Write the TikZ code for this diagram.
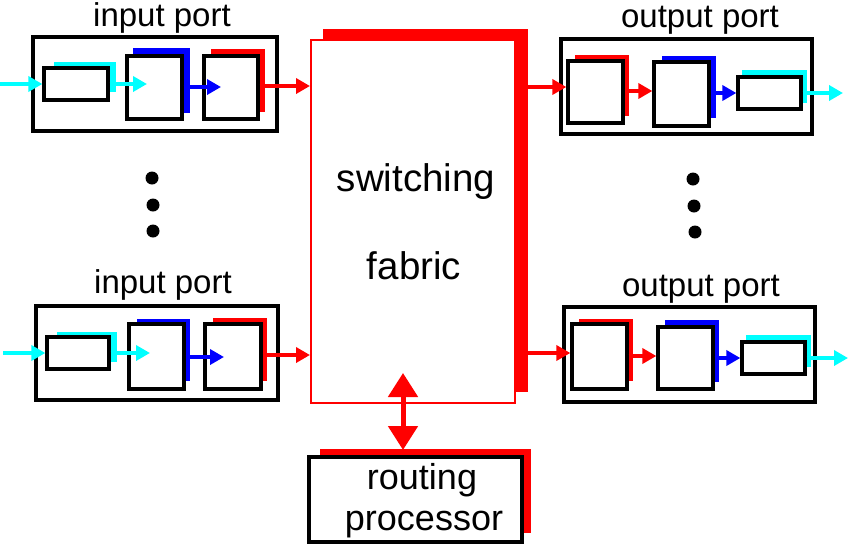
\documentclass[tikz,border=0pt]{standalone}
\usepackage{fontspec}
\setmainfont{Liberation Sans}
\usetikzlibrary{arrows.meta,calc}
\definecolor{qcyan}{RGB}{0,255,255}
\definecolor{qblue}{RGB}{0,0,255}
\definecolor{qred}{RGB}{255,0,0}
\begin{document}
\begin{tikzpicture}[x=1pt,y=-1pt,
  frame/.style={draw=black,line width=3.3pt,fill=white,inner sep=0pt,rectangle},
  shadowbox/.style={fill=#1,draw=none,inner sep=0pt,rectangle},
  arr/.style={draw=#1,line width=3.5pt,-{Triangle[length=14pt,width=15pt]}},
  lbl/.style={anchor=base,inner sep=0pt,font=\fontsize{33}{36}\selectfont},
  big/.style={anchor=base,inner sep=0pt,font=\fontsize{38.5}{42}\selectfont},
  dotc/.style={circle,fill=black,inner sep=0pt,minimum size=13pt}
]
\useasboundingbox (0,0) rectangle (848,544);

% ---------- switching fabric ----------
\node[shadowbox=qred,minimum width=205pt,minimum height=363pt] (fabs) at (425.5,210.5) {};
\node[draw=qred,line width=2pt,fill=white,inner sep=0pt,minimum width=204pt,minimum height=363pt] (fab) at (413,221.5) {};
\node[big] (t1) at (416,191) {switching};
\node[big] (t2) at (414,279) {fabric};

% ---------- routing processor ----------
\node[shadowbox=qred,minimum width=211pt,minimum height=84pt] (rps) at (425.5,491) {};
\node[frame,minimum width=213pt,minimum height=85pt] (rp) at (415.5,499.5) {};
\node[big,font=\fontsize{36}{40}\selectfont] (t3) at (422,489) {routing};
\node[big,font=\fontsize{36}{40}\selectfont] (t4) at (424,530) {processor};
\coordinate (da) at (403,373);
\coordinate (db) at (403,450);
\draw[qred,line width=5pt,{Triangle[length=24pt,width=29pt]}-{Triangle[length=24pt,width=29pt]}] (da) -- (db);

% ---------- input port 1 ----------
\node[frame,minimum width=244pt,minimum height=94pt] (ip1) at (155,84) {};
\node[lbl] (l1) at (162,26) {input port};
\node[shadowbox=qcyan,minimum width=62pt,minimum height=30pt] (iq1s) at (85,77) {};
\node[frame,minimum width=64pt,minimum height=32pt] (iq1) at (76,84) {};
\node[shadowbox=qblue,minimum width=57pt,minimum height=65pt] (ia1s) at (161.5,80.5) {};
\node[frame,minimum width=55pt,minimum height=63pt] (ia1) at (154.5,87.5) {};
\node[shadowbox=qred,minimum width=54pt,minimum height=63pt] (ib1s) at (238,80.5) {};
\node[frame,minimum width=54pt,minimum height=63pt] (ib1) at (231,87.5) {};
\coordinate (in1) at (0,84);
\coordinate (c1) at (147,84);
\coordinate (b1) at (221,87);
\draw[arr=qcyan] (in1) -- (iq1.west);
\draw[arr=qcyan] (iq1.east) -- (c1);
\draw[arr=qblue] (ia1.east |- b1) -- (b1);
\draw[arr=qred] (ib1.east |- 0,86) -- (fab.west |- 0,86);

% ---------- input port 2 ----------
\node[frame,minimum width=242pt,minimum height=94pt] (ip2) at (157,353) {};
\node[lbl] (l2) at (163,293) {input port};
\node[shadowbox=qcyan,minimum width=60pt,minimum height=30pt] (iq2s) at (87,347) {};
\node[frame,minimum width=62pt,minimum height=32pt] (iq2) at (78,353) {};
\node[shadowbox=qblue,minimum width=53pt,minimum height=62pt] (ia2s) at (163.5,350) {};
\node[frame,minimum width=55pt,minimum height=65pt] (ia2) at (156.5,356.5) {};
\node[shadowbox=qred,minimum width=54pt,minimum height=63pt] (ib2s) at (240,349.5) {};
\node[frame,minimum width=56pt,minimum height=65pt] (ib2) at (233,356.5) {};
\coordinate (in2) at (3,353);
\coordinate (c2) at (150,353);
\coordinate (b2) at (224,357);
\draw[arr=qcyan] (in2) -- (iq2.west);
\draw[arr=qcyan] (iq2.east) -- (c2);
\draw[arr=qblue] (ia2.east |- b2) -- (b2);
\draw[arr=qred] (ib2.east |- 0,355) -- (fab.west |- 0,355);

% ---------- output port 1 ----------
\node[frame,minimum width=251pt,minimum height=95pt] (op1) at (686.5,86.5) {};
\node[lbl] (l3) at (700,27) {output port};
\node[shadowbox=qred,minimum width=54pt,minimum height=61pt] (oa1s) at (602,85.5) {};
\node[frame,minimum width=55pt,minimum height=62pt] (oa1) at (595.5,92) {};
\node[shadowbox=qblue,minimum width=54pt,minimum height=62pt] (ob1s) at (689,87) {};
\node[frame,minimum width=55pt,minimum height=64pt] (ob1) at (681.5,94) {};
\node[shadowbox=qcyan,minimum width=65pt,minimum height=33pt] (oq1s) at (774.5,86.5) {};
\node[frame,minimum width=63pt,minimum height=32pt] (oq1) at (769.5,93) {};
\coordinate (out1) at (843,93);
\draw[arr=qred] (fabs.east |- 0,87) -- (oa1.west |- 0,87);
\draw[arr=qred] (oa1.east |- 0,91) -- (ob1.west |- 0,91);
\draw[arr=qblue] (ob1.east |- oq1.west) -- (oq1.west);
\draw[arr=qcyan] (oq1.east) -- (out1);

% ---------- output port 2 ----------
\node[frame,minimum width=251pt,minimum height=95pt] (op2) at (689.5,354.5) {};
\node[lbl] (l4) at (701,296) {output port};
\node[shadowbox=qred,minimum width=54pt,minimum height=62pt] (oa2s) at (606,350) {};
\node[frame,minimum width=55pt,minimum height=65pt] (oa2) at (599.5,356.5) {};
\node[shadowbox=qblue,minimum width=54pt,minimum height=62pt] (ob2s) at (692,351) {};
\node[frame,minimum width=55pt,minimum height=62pt] (ob2) at (685.5,358) {};
\node[shadowbox=qcyan,minimum width=65pt,minimum height=32pt] (oq2s) at (778.5,351) {};
\node[frame,minimum width=63pt,minimum height=32pt] (oq2) at (773.5,358) {};
\coordinate (out2) at (848,358);
\draw[arr=qred] (fabs.east |- 0,353) -- (oa2.west |- 0,353);
\draw[arr=qred] (oa2.east |- 0,356) -- (ob2.west |- 0,356);
\draw[arr=qblue] (ob2.east |- oq2.west) -- (oq2.west);
\draw[arr=qcyan] (oq2.east) -- (out2);

% ---------- dots ----------
\node[dotc] (d1) at (152,178) {};
\node[dotc] (d2) at (153,205) {};
\node[dotc] (d3) at (153,231) {};
\node[dotc] (d4) at (693,179) {};
\node[dotc] (d5) at (694,206) {};
\node[dotc] (d6) at (695,232) {};
\end{tikzpicture}
\end{document}
